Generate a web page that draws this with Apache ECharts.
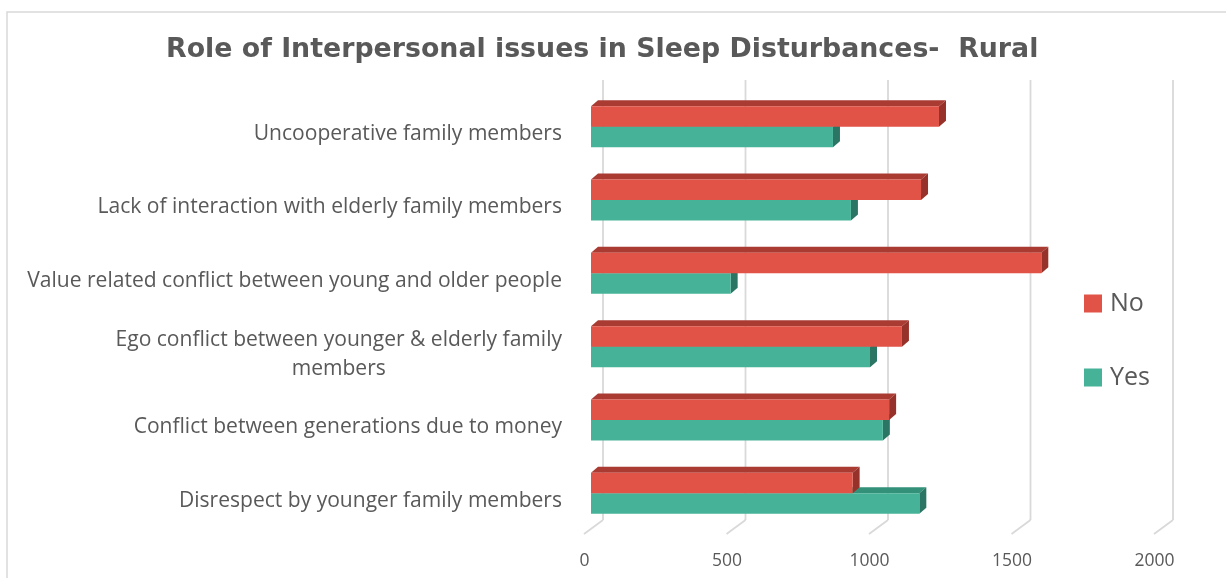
<!DOCTYPE html>
<html>
<head>
<meta charset="utf-8">
<script src="https://cdn.jsdelivr.net/npm/echarts@6/dist/echarts.min.js"></script>
<style>
  html, body { margin: 0; padding: 0; background: #ffffff; }
  #chart { width: 1226px; height: 578px; }
</style>
</head>
<body>
<div id="chart"></div>
<script>
// Categories listed bottom to top, as the value axis draws them
const categories = [
  'Disrespect by younger family members',
  'Conflict between generations due to money',
  'Ego conflict between younger & elderly family\nmembers',
  'Value related conflict between young and older people',
  'Lack of interaction with elderly family members',
  'Uncooperative family members'
];
const noValues  = [918, 1046, 1091, 1580, 1158, 1221];
const yesValues = [1152, 1024, 979, 490, 912, 849];
const xTicks = [0, 500, 1000, 1500, 2000];

const TITLE = 'Role of Interpersonal issues in Sleep Disturbances-  Rural';
const FONT = 'Open Sans';
const TITLE_FONT = 'DejaVu Sans';
const TEXT = '#595959';
const GRID_LINE = '#d9d9d9';

// Face colours for the extruded bars: front, top, side
const RED = { front: '#E15247', top: '#A93B32', side: '#963229' };
const TEAL = { front: '#46B398', top: '#33917A', side: '#2A7563' };

// Depth of each bar's extrusion
const DX = 7, DY = -6;

// Text sizing: fit the title and the longest category label to their widths
const measureCtx = document.createElement('canvas').getContext('2d');
function textWidth(text, size, family, weight) {
  measureCtx.font = (weight || 'normal') + ' ' + size + 'px "' + family + '"';
  return measureCtx.measureText(text).width;
}
function fitSize(text, target, family, weight) {
  return 20 * target / textWidth(text, 20, family, weight);
}
const titleSize = fitSize(TITLE, 873, TITLE_FONT, 'bold');
const longestLine = categories.map(c => c.split('\n')).flat()
  .reduce((a, b) => textWidth(b, 20, FONT) > textWidth(a, 20, FONT) ? b : a);
const labelSize = fitSize(longestLine, 535, FONT);

function barRenderer(faces, above) {
  return function (params, api) {
    const v = api.value(0);
    const c = api.value(1);
    const p0 = api.coord([0, c]);
    const p1 = api.coord([v, c]);
    const band = api.size([0, 1])[1];
    const h = band * 0.28;
    const y0 = above ? p0[1] - h : p0[1];
    const x0 = p0[0], x1 = p1[0];
    return {
      type: 'group',
      children: [
        { type: 'polygon', shape: { points: [[x0, y0], [x0 + DX, y0 + DY], [x1 + DX, y0 + DY], [x1, y0]] },
          style: { fill: faces.top } },
        { type: 'polygon', shape: { points: [[x1, y0], [x1 + DX, y0 + DY], [x1 + DX, y0 + h + DY], [x1, y0 + h]] },
          style: { fill: faces.side } },
        { type: 'rect', shape: { x: x0, y: y0, width: x1 - x0, height: h },
          style: { fill: faces.front } }
      ]
    };
  };
}

// Back-wall gridlines with the slanted floor segment at their foot
function gridRenderer(params, api) {
  const x = api.coord([api.value(0), 0])[0];
  const cs = params.coordSys;
  const top = cs.y - 10, floor = cs.y + cs.height - 10, front = cs.y + cs.height + 4;
  const style = { stroke: GRID_LINE, lineWidth: 1.8 };
  return {
    type: 'group',
    children: [
      { type: 'line', shape: { x1: x + 12, y1: top, x2: x + 12, y2: floor }, style },
      { type: 'line', shape: { x1: x + 12, y1: floor, x2: x - 7, y2: front }, style }
    ]
  };
}

// Multi-line category labels are centred on their widest line
function wrapLabel(value) {
  const lines = value.split('\n');
  if (lines.length === 1) return value;
  return lines.map(l => '{w|' + l + '}').join('\n');
}
const wrapWidth = Math.max.apply(null, categories
  .filter(c => c.indexOf('\n') >= 0)
  .map(c => Math.max.apply(null, c.split('\n').map(l => textWidth(l, labelSize, FONT)))));

const chart = echarts.init(document.getElementById('chart'), null, { renderer: 'canvas' });

chart.setOption({
  animation: false,
  backgroundColor: '#ffffff',
  title: {
    text: TITLE,
    left: 161,
    top: 32,
    textStyle: { fontFamily: TITLE_FONT, fontWeight: 'bold', fontSize: titleSize, color: TEXT }
  },
  graphic: [
    { type: 'rect', shape: { x: 7, y: 12, width: 1240, height: 600 },
      style: { fill: 'none', stroke: GRID_LINE, lineWidth: 1.5 }, z: -1, silent: true }
  ],
  legend: {
    data: ['No', 'Yes'],
    orient: 'vertical',
    left: 1084,
    top: 291,
    padding: 0,
    itemWidth: 18,
    itemHeight: 18,
    itemGap: 49,
    icon: 'rect',
    textStyle: { fontFamily: FONT, fontSize: 25, color: TEXT, padding: [0, 0, 0, 3] }
  },
  grid: { left: 591, width: 570, top: 90, height: 440, containLabel: false },
  xAxis: {
    type: 'value',
    min: 0,
    max: 2000,
    interval: 500,
    axisLine: { show: false },
    axisTick: { show: false },
    splitLine: { show: false },
    axisLabel: {
      margin: 22,
      padding: [0, 13, 0, 0],
      fontFamily: FONT, fontSize: 17.5, color: TEXT,
      formatter: v => String(v)
    }
  },
  yAxis: {
    type: 'category',
    data: categories,
    axisLine: { show: false },
    axisTick: { show: false },
    splitLine: { show: false },
    axisLabel: {
      margin: 29,
      padding: [15, 0, 0, 0],
      fontFamily: FONT, fontSize: labelSize, color: TEXT,
      lineHeight: 29,
      formatter: wrapLabel,
      rich: { w: { width: wrapWidth, align: 'center', fontFamily: FONT, fontSize: labelSize, color: TEXT, lineHeight: 29 } }
    }
  },
  series: [
    {
      type: 'custom', name: 'grid', silent: true, z: 1,
      renderItem: gridRenderer,
      data: xTicks.map(v => [v])
    },
    {
      type: 'custom', name: 'Yes', z: 2,
      itemStyle: { color: TEAL.front },
      renderItem: barRenderer(TEAL, false),
      encode: { x: 0, y: 1 },
      data: yesValues.map((v, i) => [v, i])
    },
    {
      type: 'custom', name: 'No', z: 3,
      itemStyle: { color: RED.front },
      renderItem: barRenderer(RED, true),
      encode: { x: 0, y: 1 },
      data: noValues.map((v, i) => [v, i])
    }
  ]
});
</script>
</body>
</html>
